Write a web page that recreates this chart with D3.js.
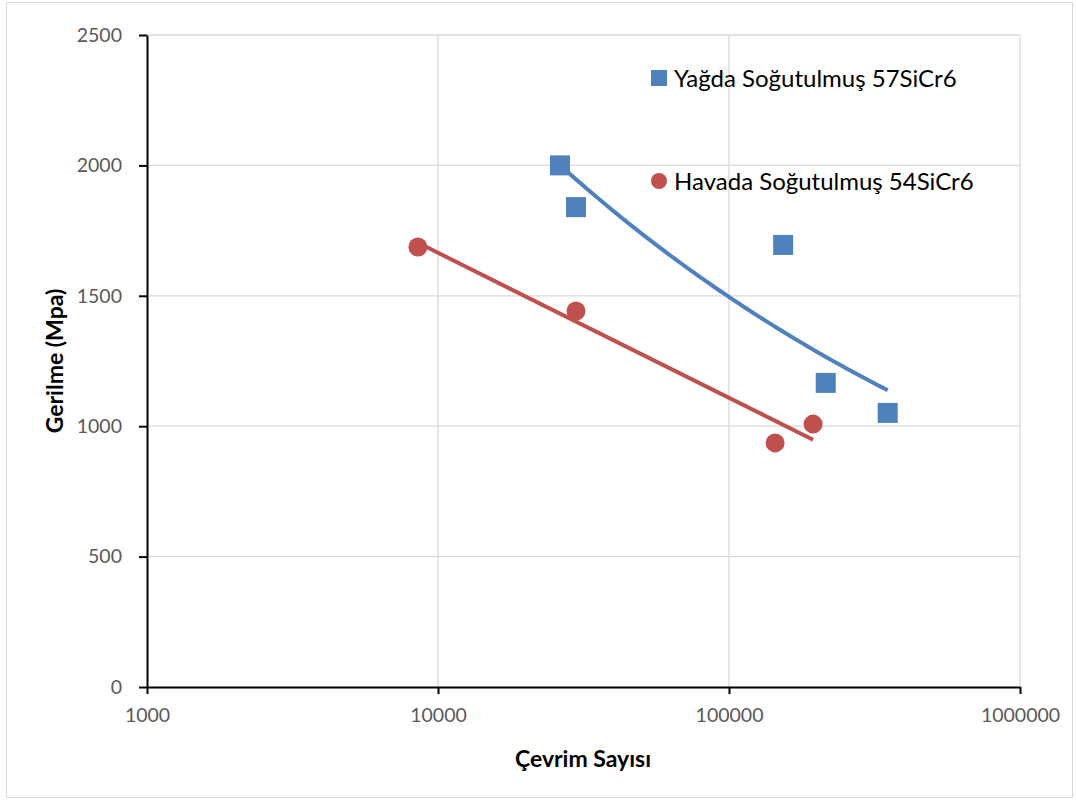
<!DOCTYPE html>
<html>
<head>
<meta charset="utf-8">
<script src="https://cdn.jsdelivr.net/npm/d3@7"></script>
<style>
  body { margin: 0; background: #fff; }
  text { font-family: Lato, "Open Sans", sans-serif; }
</style>
</head>
<body>
<svg width="1076" height="800"></svg>
<script>
// Data
const yagCycles = [26250, 29800, 153500, 215000, 351000];
const yagStress = [2000, 1840, 1695, 1166, 1051];
const havCycles = [8530, 29800, 144000, 194500];
const havStress = [1687, 1442, 936, 1008];
const xTicks = [1000, 10000, 100000, 1000000];
const yTicks = [0, 500, 1000, 1500, 2000, 2500];
const seriesNames = ["Yağda Soğutulmuş 57SiCr6", "Havada Soğutulmuş 54SiCr6"];

const svg = d3.select("svg");
const blue = "#4f81bd", red = "#c0504d";

// chart border
svg.append("rect")
  .attr("x", 6.5).attr("y", 2.5).attr("width", 1066).attr("height", 795)
  .attr("fill", "#fff").attr("stroke", "#d9d9d9");

const x = d3.scaleLog().domain([1000, 1000000]).range([147, 1020]);
const y = d3.scaleLinear().domain([0, 2500]).range([687, 35]);

// gridlines
svg.append("g").selectAll("line").data(yTicks.slice(1)).enter().append("line")
  .attr("x1", 147).attr("x2", 1020)
  .attr("y1", d => y(d)).attr("y2", d => y(d))
  .attr("stroke", "#d9d9d9").attr("stroke-width", 1.3);
svg.append("g").selectAll("line").data(xTicks.slice(1)).enter().append("line")
  .attr("x1", d => x(d)).attr("x2", d => x(d))
  .attr("y1", 35).attr("y2", 687)
  .attr("stroke", "#d9d9d9").attr("stroke-width", 1.3);

// axes
const xAxis = svg.append("g").attr("transform", "translate(0,687)")
  .call(d3.axisBottom(x).tickValues(xTicks).tickFormat(d3.format("d")).tickSizeInner(7).tickSizeOuter(0).tickPadding(14));
const yAxis = svg.append("g").attr("transform", "translate(147,0)")
  .call(d3.axisLeft(y).tickValues(yTicks).tickFormat(d3.format("d")).tickSizeInner(8).tickSizeOuter(0).tickPadding(17));
[xAxis, yAxis].forEach(a => {
  a.select(".domain").attr("stroke", "#000").attr("stroke-width", 2);
  a.selectAll(".tick line").attr("stroke", "#000").attr("stroke-width", 2);
  a.selectAll(".tick text").attr("fill", "#595959").style("font-size", "19.5px");
});

// trendlines: power fit (blue), logarithmic fit (red), as the spreadsheet did
function fit(xs, ys) {
  const mx = d3.mean(xs), my = d3.mean(ys);
  const b = d3.sum(xs, (v, i) => (v - mx) * (ys[i] - my)) / d3.sum(xs, v => (v - mx) ** 2);
  return { b: b, a: my - b * mx };
}
const pf = fit(yagCycles.map(Math.log), yagStress.map(Math.log));
const lf = fit(havCycles.map(Math.log), havStress);
const line = d3.line().x(d => x(d[0])).y(d => y(d[1]));
const lo = Math.log(d3.min(yagCycles)), hi = Math.log(d3.max(yagCycles));
const yagTrend = d3.range(0, 101).map(i => {
  const c = Math.exp(lo + i / 100 * (hi - lo));
  return [c, Math.exp(pf.a + pf.b * Math.log(c))];
});
const havTrend = [d3.min(havCycles), d3.max(havCycles)].map(c => [c, lf.a + lf.b * Math.log(c)]);
svg.append("path").datum(yagTrend).attr("d", line)
  .attr("fill", "none").attr("stroke", blue).attr("stroke-width", 4);
svg.append("path").datum(havTrend).attr("d", line)
  .attr("fill", "none").attr("stroke", red).attr("stroke-width", 4);

// markers
svg.append("g").selectAll("rect").data(yagCycles).enter().append("rect")
  .attr("x", d => x(d) - 10).attr("y", (d, i) => y(yagStress[i]) - 10)
  .attr("width", 20).attr("height", 20).attr("fill", blue);
svg.append("g").selectAll("circle").data(havCycles).enter().append("circle")
  .attr("cx", d => x(d)).attr("cy", (d, i) => y(havStress[i]))
  .attr("r", 9.5).attr("fill", red);

// axis titles
svg.append("text").attr("x", 583).attr("y", 767).attr("text-anchor", "middle")
  .style("font-size", "23px").style("font-weight", "bold").text("Çevrim Sayısı");
svg.append("text").attr("transform", "translate(63,361) rotate(-90)").attr("text-anchor", "middle")
  .style("font-size", "23px").style("font-weight", "bold").text("Gerilme (Mpa)");

// legend
const leg = svg.append("g");
leg.append("rect").attr("x", 651).attr("y", 70).attr("width", 16).attr("height", 16).attr("fill", blue);
leg.append("text").attr("x", 674).attr("y", 87).style("font-size", "24px").attr("fill", "#000").text(seriesNames[0]);
leg.append("circle").attr("cx", 659).attr("cy", 181).attr("r", 8).attr("fill", red);
leg.append("text").attr("x", 674).attr("y", 190).style("font-size", "24px").attr("fill", "#000").text(seriesNames[1]);
</script>
</body>
</html>
